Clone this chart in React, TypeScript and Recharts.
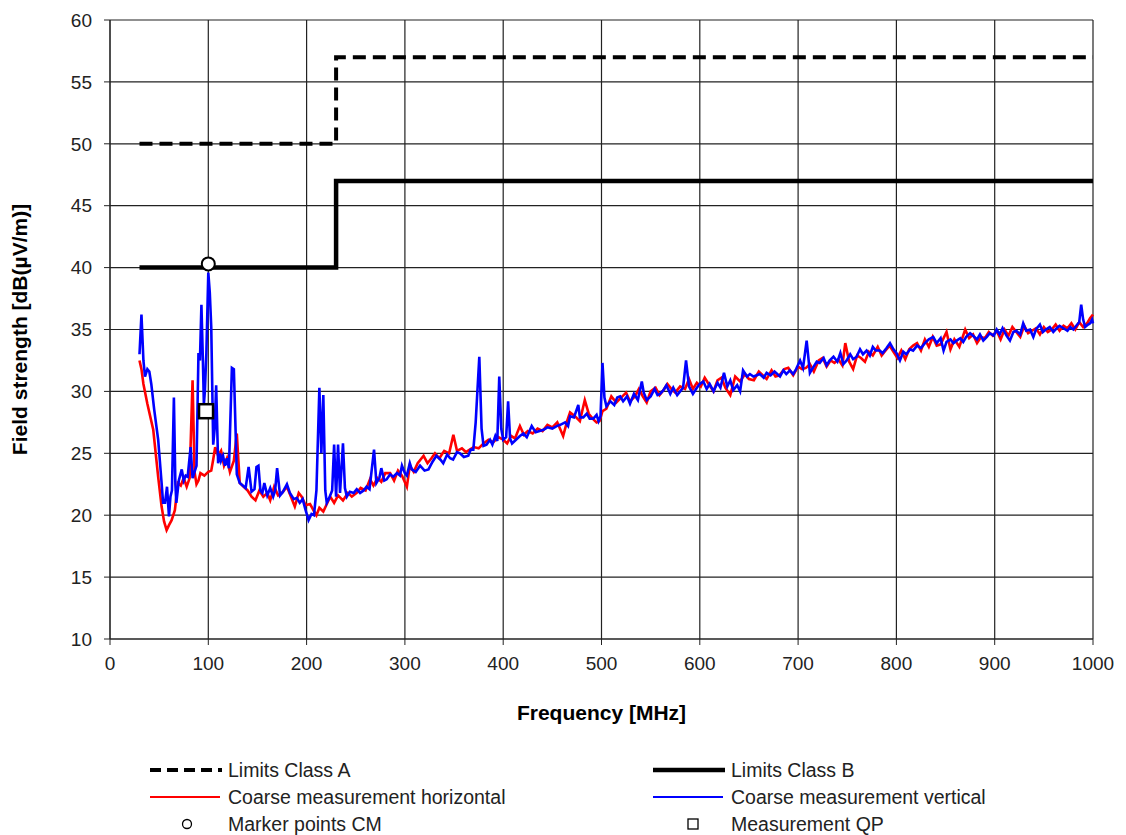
import React from "react"
import {
  ComposedChart,
  Line,
  Scatter,
  XAxis,
  YAxis,
  CartesianGrid,
} from "recharts"

// frequency [MHz], field strength [dB(µV/m)]
const limitsClassA: [number, number][] = [
  [30, 50], [230, 50], [230, 57], [1000, 57],
]
const limitsClassB: [number, number][] = [
  [30, 40], [230, 40], [230, 47], [1000, 47],
]

const coarseHorizontal: [number, number][] = [
  [30, 32.5], [32, 31.8], [34, 30.6], [38, 29], [44, 26.9], [49, 23.1], [52.5, 20.7], [55, 19.5],
  [57.6, 18.8], [60, 19.2], [62.7, 19.6], [66, 20.4], [69, 22.6], [72, 22.4], [75, 23], [78, 22.3],
  [81, 23], [84, 30.9], [86, 23.5], [88, 22.5], [90, 22.8], [92, 23.4], [96, 23.2], [100, 23.5],
  [103, 23.6], [105, 24.5], [107, 25.5], [110, 24.8], [113, 25.2], [116, 24], [119, 24.6], [122, 23.5],
  [126, 24.4], [129, 26.6], [132, 22.6], [136, 22.3], [140, 22], [144, 21.5], [148, 21.2], [152, 22],
  [156, 21.5], [160, 21.8], [163, 21.2], [167, 22.3], [171, 21.6], [175, 21.8], [180, 22.3], [184, 21.5],
  [188, 20.7], [192, 21.8], [195, 21.5], [199, 20.8], [203.5, 20.9], [207, 20.4], [210, 20], [213, 20.6],
  [217, 20.3], [220, 20.8], [224, 21.5], [228, 21], [232, 21.6], [237, 21.2], [242, 21.8], [246, 21.5],
  [251, 21.8], [255, 22.2], [260, 22], [264.5, 22.9], [268, 22.4], [272, 23], [276, 22.7], [280, 23.4],
  [285, 23.4], [289, 22.8], [293, 23.6], [297, 23.2], [302, 22.3], [305, 24], [309, 23.5], [313, 24.2],
  [319, 24.8], [323, 24.2], [327, 24.6], [330.6, 25], [335, 24.6], [340, 25.2], [345, 25], [349.3, 26.5],
  [353, 25.2], [358, 25.4], [362, 25.1], [366, 25.3], [370, 25.5], [375, 25.4], [380, 25.8], [385, 26.1],
  [390, 25.9], [395, 26.3], [400, 26.1], [404, 25.8], [408, 26.4], [412, 26.2], [417, 27.2], [421, 26.5],
  [425, 26.8], [430, 26.6], [435, 27], [440, 26.8], [445, 27.3], [450, 27.1], [455, 27.5], [461, 26.4],
  [465, 27.6], [468, 28.3], [473, 28], [478, 27.6], [483, 29.3], [487, 28.2], [491, 27.8], [495, 27.5],
  [498, 27.6], [501, 28.4], [505, 28.6], [510, 29.6], [515, 29.1], [520, 29.5], [525, 29.9], [529, 29.2],
  [534, 29.6], [538, 30.2], [542, 29.6], [546, 29.1], [550, 30], [555, 30.3], [559, 29.7], [563, 30.1],
  [567, 30.6], [571, 30.2], [575, 29.9], [580, 30.4], [585, 30.2], [589, 31], [593, 30.2], [597, 30.7],
  [601, 30.4], [605, 31.1], [609, 30.6], [614, 30], [618, 30.9], [622, 31.1], [626, 30.3], [631, 29.7],
  [636, 31.2], [641, 30.8], [646, 31.4], [650, 31], [655, 30.9], [660, 31.6], [664, 31.3], [668, 31],
  [673, 31.7], [677, 31.2], [681, 31.3], [686, 31.8], [690, 31.9], [695, 31.3], [700, 32], [704, 31.8],
  [708, 31.9], [712, 32.2], [716, 31.6], [721, 32.5], [725, 32.7], [729, 32], [733, 32.5], [737, 32.3],
  [741, 32.6], [745, 32.1], [748, 33.9], [752, 32.4], [756, 31.8], [760, 32.9], [764, 32.7], [768, 32.4],
  [772, 33.2], [776, 32.9], [781, 33.6], [785, 32.9], [789, 33.3], [793, 33.7], [797, 33.2], [801, 32.7],
  [805, 33.3], [809, 32.6], [813, 33.4], [817, 33.7], [821, 33.9], [825, 33.3], [829, 34.2], [833, 33.6],
  [837, 34.4], [841, 33.7], [845, 33.8], [851, 34.8], [855, 33.4], [859, 34.2], [864, 33.6], [870, 35],
  [874, 34.3], [878, 34.6], [882, 33.9], [886, 34.4], [890, 34.3], [894, 34.8], [898, 34.5], [902, 34.9],
  [906, 34.2], [910, 35], [914, 34.5], [918, 35.2], [922, 34.8], [926, 34.4], [930, 35.3], [934, 34.7],
  [938, 34.9], [942, 35.1], [946, 34.6], [950, 35.2], [954, 34.8], [958, 35], [962, 35.4], [966, 34.9],
  [970, 35.3], [974, 35.1], [978, 35.5], [982, 35], [986, 35.6], [990, 35.2], [994, 35.5], [997, 35.9],
  [1000, 36.2],
]

const coarseVertical: [number, number][] = [
  [30, 33], [32, 36.2], [34, 32.5], [35.6, 31.2], [38, 31.8], [40, 31.6], [42, 30.6], [45, 28.5],
  [49, 26.1], [52.5, 22.6], [54, 21], [56, 21], [58, 22.3], [60, 19.9], [61.5, 21.5], [63, 22],
  [65, 29.5], [66.5, 22.5], [67.5, 21], [70, 22.8], [73, 23.7], [75, 22.8], [77, 23.2], [79, 23.1],
  [82, 25.5], [84, 23], [86, 23.5], [88, 24], [90, 33.1], [91.5, 32.5], [93, 37], [94.5, 32.5],
  [95.5, 29], [96.5, 30], [98, 33], [100, 39.6], [101.5, 38], [103, 35.2], [105, 25.7], [106.5, 27],
  [108, 30.5], [110, 24.2], [112, 25], [113, 24.4], [115, 24.8], [117, 24], [119, 24.6], [121, 23.8],
  [124, 31.9], [126, 31.8], [129, 23.3], [132, 22.6], [135, 22.4], [138, 22.2], [141, 23.9], [144, 21.9],
  [147, 22.1], [149, 23.9], [151, 24], [153, 22], [155, 21.8], [157, 22.6], [160, 21.6], [163, 22.2],
  [166, 21.5], [168, 22], [170, 23.8], [173, 21.6], [176, 21.9], [180, 22.5], [183, 21.8], [187, 21.3],
  [190, 21.4], [193, 21], [196, 21.3], [199, 20.4], [202, 19.6], [205, 20.1], [207.5, 20], [210, 22],
  [213, 30.3], [215, 25], [217, 29.7], [219, 22], [220.5, 21], [223, 21.4], [226, 22], [228, 25.7],
  [230, 21.5], [232, 25.7], [234, 21.8], [237, 25.8], [239, 22.2], [241, 21.5], [244, 21.9], [248, 21.8],
  [251, 22.1], [254.4, 21.8], [258, 22], [261, 22.3], [264, 22.1], [268.6, 25.3], [271, 22.6], [274, 23],
  [276, 23.8], [279, 22.8], [281.5, 22.9], [285, 23.3], [288, 23.1], [292, 23.4], [295, 23.2], [297, 24],
  [300, 23.4], [302, 23.2], [305, 24.2], [307, 23.7], [311, 23.5], [315.4, 24], [320, 23.6], [324, 23.7],
  [328, 24.3], [332, 24.8], [336, 24.5], [339, 24.2], [343, 24.9], [346, 24.6], [349, 24.5], [353, 25.1],
  [356, 25], [360, 24.7], [364.5, 24.8], [367, 25.3], [369.6, 25.3], [372, 27.5], [375.7, 32.8], [378, 27],
  [380, 25.6], [383, 25.7], [386.6, 26.1], [389, 25.7], [392, 26.4], [394, 26], [396, 31.2], [398, 27],
  [400, 26.1], [403, 26.3], [405, 29.2], [407, 26.2], [409, 25.8], [413, 26.1], [417, 26.4], [420.5, 26.6],
  [424, 26.3], [429, 27.2], [433, 26.7], [437, 26.8], [441, 26.9], [445, 27.1], [450, 27], [454.4, 27.2],
  [458, 27.3], [463, 27.5], [466, 27.2], [468, 28], [472, 27.9], [476.4, 28.9], [478, 27.9], [481.5, 27.9],
  [485, 28.2], [488, 27.8], [491.7, 27.8], [495, 28.1], [497, 27.6], [499, 28], [501, 32.3], [503, 29.5],
  [505, 28.8], [509, 29.2], [513, 28.9], [516, 29.5], [519, 29.6], [522, 29.2], [526, 29.6], [529, 29],
  [533, 29.8], [537, 29.3], [541, 30.8], [543, 29.9], [546, 29.3], [550, 29.6], [554, 30.2], [557, 29.7],
  [559.5, 29.8], [563, 30.1], [566, 30.5], [570, 29.8], [573, 30.3], [577, 29.7], [580, 30], [583, 30.3],
  [586, 32.5], [589, 30.4], [593, 29.8], [597, 30.3], [600, 30.6], [603.6, 30.8], [607, 30.2], [610, 30.6],
  [614, 30], [618, 30.7], [621, 30.3], [624.6, 31.5], [628, 30.4], [631, 30.9], [634, 30.1], [638, 30.5],
  [641, 30], [644, 31.7], [648, 31.2], [651, 31.4], [654.5, 31.2], [658, 31.3], [661, 31.4], [665, 31.1],
  [668, 31.5], [672, 31.3], [676, 31.6], [681.6, 31.2], [685, 31.7], [688, 31.4], [691.7, 31.7], [695, 31.4],
  [698, 31.8], [702, 32.5], [705, 31.9], [708.7, 34.1], [712, 31.5], [715, 31.9], [719, 32.4], [722, 32.3],
  [726, 32.7], [729, 32.1], [732, 32.5], [736, 32.8], [740, 32.4], [743, 33.1], [746, 32.2], [749.4, 32.5],
  [753, 33], [756, 32.6], [759.5, 32.8], [763, 33.4], [766, 33], [769.7, 33.3], [773, 32.9], [776, 33.6],
  [779, 33.3], [783, 33.3], [786, 33.1], [790, 33.5], [793.5, 33.9], [797, 33.4], [800, 33.1], [803.6, 32.5],
  [807, 33.2], [810, 33], [814, 33.4], [817, 33.3], [821, 33.7], [825, 33.5], [829, 33.9], [833, 34.2],
  [837.5, 34.4], [841, 33.9], [845, 34.3], [848, 33.3], [851, 34], [855, 34.2], [858, 33.9], [861.3, 34.1],
  [865, 34.3], [868, 34], [871, 34.4], [875, 34.7], [878, 34.5], [882, 34.2], [885, 34.6], [888.4, 34.1],
  [892, 34.4], [895, 34.7], [899, 34.5], [902, 35], [905, 34.6], [908, 35.1], [912, 34.5], [915.5, 34.1],
  [919, 34.8], [922, 34.9], [926, 34.6], [929, 35.5], [932, 34.9], [936, 35], [939.3, 34.4], [942, 35],
  [946, 35.4], [949, 34.8], [952, 35], [956, 35.2], [959.6, 34.8], [963, 35.1], [966, 35.3], [970, 35.1],
  [974, 34.9], [977, 35.2], [980, 35], [983, 35.3], [986, 35.6], [988, 37], [990, 35.8], [992, 35.2],
  [995, 35.4], [997, 35.5], [999, 35.8], [1000, 35.5],
]

const markerPointsCM: [number, number][] = [[100, 40.3]]
const measurementQP: [number, number][] = [[97.7, 28.4]]

const freqTicks = [0, 100, 200, 300, 400, 500, 600, 700, 800, 900, 1000]
const levelTicks = [10, 15, 20, 25, 30, 35, 40, 45, 50, 55, 60]

const toPoints = (rows: [number, number][]) => rows.map(([f, v]) => ({ f, v }))

const tickStyle = { fill: "#222", fontSize: 19 }
const titleStyle = { fontWeight: "bold", fontSize: 21, fill: "#000" }

function CircleMark(props: any) {
  const { cx, cy } = props
  return <circle cx={cx} cy={cy} r={6.5} fill="#fff" stroke="#000" strokeWidth={2} />
}

function SquareMark(props: any) {
  const { cx, cy } = props
  return <rect x={cx - 7} y={cy - 7} width={14} height={14} fill="#fff" stroke="#000" strokeWidth={2.5} />
}

function LegendSymbol({ kind }: { kind: string }) {
  return (
    <svg width={72} height={12} style={{ display: "block" }}>
      {kind === "dash" && <line x1={0} y1={6} x2={72} y2={6} stroke="#000" strokeWidth={4} strokeDasharray="11 6" />}
      {kind === "solid" && <line x1={0} y1={6} x2={72} y2={6} stroke="#000" strokeWidth={4.5} />}
      {kind === "red" && <line x1={0} y1={6} x2={70} y2={6} stroke="#ff0000" strokeWidth={2} />}
      {kind === "blue" && <line x1={0} y1={6} x2={70} y2={6} stroke="#0000ff" strokeWidth={2} />}
      {kind === "circle" && <circle cx={37} cy={6} r={4.5} fill="#fff" stroke="#000" strokeWidth={1.3} />}
      {kind === "square" && <rect x={35} y={1} width={10} height={10} fill="#fff" stroke="#000" strokeWidth={1.3} />}
    </svg>
  )
}

const legendItems = [
  { label: "Limits Class A", kind: "dash", col: 0, row: 0 },
  { label: "Limits Class B", kind: "solid", col: 1, row: 0 },
  { label: "Coarse measurement horizontal", kind: "red", col: 0, row: 1 },
  { label: "Coarse measurement vertical", kind: "blue", col: 1, row: 1 },
  { label: "Marker points CM", kind: "circle", col: 0, row: 2 },
  { label: "Measurement QP", kind: "square", col: 1, row: 2 },
]

export default function App() {
  const colX = [142, 645]
  const rowY = [762, 789, 816]
  return (
    <div style={{ position: "relative", width: 1110, height: 827, fontFamily: "'Liberation Sans', Arial, sans-serif", background: "#fff" }}>
      <ComposedChart width={1110} height={740} margin={{ top: 12, right: 25, bottom: 0, left: 0 }}>
        <CartesianGrid stroke="#222" strokeWidth={1.2} />
        <XAxis
          dataKey="f"
          type="number"
          domain={[0, 1000]}
          ticks={freqTicks}
          height={109}
          tick={tickStyle}
          tickSize={6}
          tickMargin={12}
          stroke="#222"
          label={{ value: "Frequency [MHz]", position: "insideBottom", offset: 28, style: titleStyle }}
        />
        <YAxis
          dataKey="v"
          type="number"
          domain={[10, 60]}
          ticks={levelTicks}
          width={102}
          tick={tickStyle}
          tickSize={6}
          tickMargin={12}
          stroke="#222"
          label={{ value: "Field strength [dB(µV/m)]", angle: -90, position: "insideLeft", offset: 12, style: { ...titleStyle, textAnchor: "middle" } }}
        />
        <Line data={toPoints(coarseHorizontal)} dataKey="v" type="linear" stroke="#ff0000" strokeWidth={2.6} dot={false} isAnimationActive={false} />
        <Line data={toPoints(coarseVertical)} dataKey="v" type="linear" stroke="#0000ff" strokeWidth={2.6} dot={false} isAnimationActive={false} />
        <Line data={toPoints(limitsClassA)} dataKey="v" type="linear" stroke="#000" strokeWidth={4} strokeDasharray="13 7" dot={false} isAnimationActive={false} />
        <Line data={toPoints(limitsClassB)} dataKey="v" type="linear" stroke="#000" strokeWidth={4.5} dot={false} isAnimationActive={false} />
        <Scatter data={toPoints(markerPointsCM)} dataKey="v" shape={CircleMark} isAnimationActive={false} />
        <Scatter data={toPoints(measurementQP)} dataKey="v" shape={SquareMark} isAnimationActive={false} />
      </ComposedChart>
      {legendItems.map((item) => (
        <div
          key={item.label}
          style={{ position: "absolute", left: colX[item.col], top: rowY[item.row] - 11, height: 22, display: "flex", alignItems: "center", fontSize: 19.5, color: "#222" }}
        >
          <LegendSymbol kind={item.kind} />
          <span style={{ marginLeft: 6, whiteSpace: "nowrap" }}>{item.label}</span>
        </div>
      ))}
    </div>
  )
}
